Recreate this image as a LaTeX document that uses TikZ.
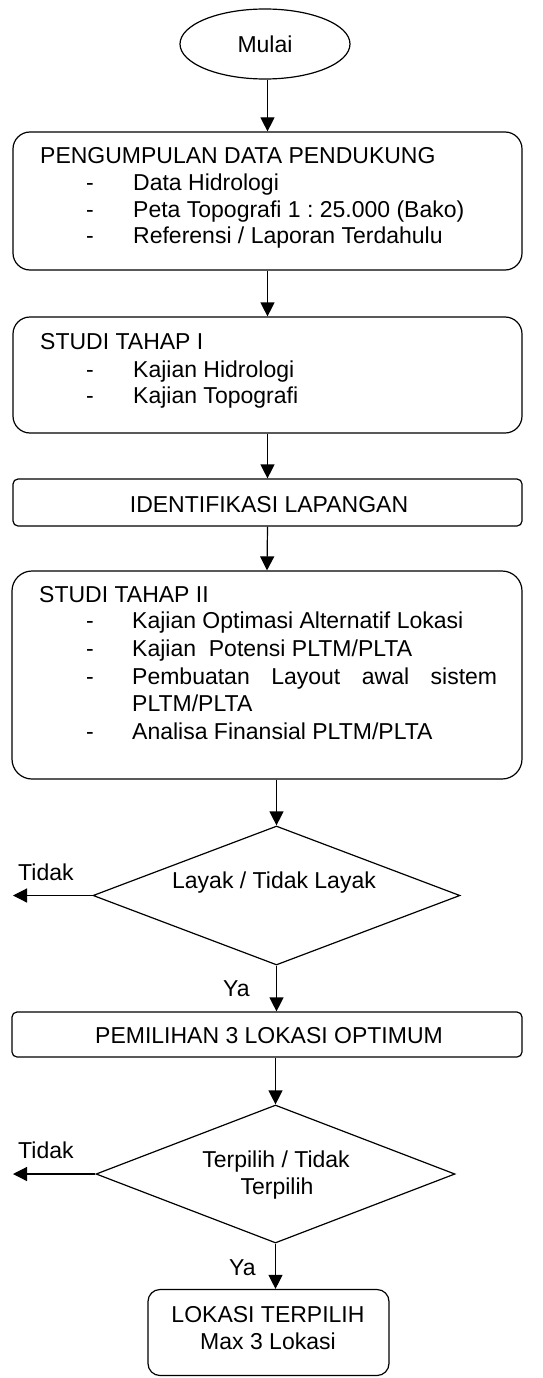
\documentclass[tikz,border=0pt]{standalone}
\usepackage{fontspec}
\setmainfont{Liberation Sans}
\usetikzlibrary{shapes.geometric,arrows.meta}
\frenchspacing
\begin{document}
\begin{tikzpicture}[x=1pt,y=-1pt,
  font=\fontsize{23}{28}\selectfont,
  box/.style={draw, line width=1.2pt, rounded corners=#1, inner sep=0pt},
  dec/.style={draw, diamond, line width=1.2pt, inner sep=0pt},
  txt/.style={anchor=base west, inner sep=0pt},
  ctxt/.style={anchor=base, inner sep=0pt},
  arr/.style={draw, line width=1.2pt, -{Triangle[length=14pt,width=14pt]}}]
\useasboundingbox (0,0) rectangle (542,1378);

% shapes
\node[draw, ellipse, line width=1.2pt, minimum width=170pt, minimum height=70pt, inner sep=0pt] (start) at (265,44) {Mulai};
\node[box=17pt, minimum width=509pt, minimum height=138pt] (b1) at (267.5,201) {};
\node[box=17pt, minimum width=509pt, minimum height=116pt] (b2) at (267.5,375) {};
\node[box=5pt, minimum width=509pt, minimum height=47pt] (b3) at (267.5,502.5) {};
\node[box=20pt, minimum width=510pt, minimum height=208pt] (b4) at (267,675) {};
\node[dec, minimum width=367pt, minimum height=139pt] (d1) at (276.5,895.5) {};
\node[box=5pt, minimum width=510pt, minimum height=45pt] (b5) at (267,1034.5) {};
\node[dec, minimum width=359pt, minimum height=138pt] (d2) at (275.5,1174) {};
\node[box=12pt, minimum width=241pt, minimum height=86pt] (b6) at (268.5,1332.5) {};

% texts box 1
\node[txt] (t1a) at (40,163) {PENGUMPULAN DATA PENDUKUNG};
\node[txt] (t1b) at (86,190) {-};
\node[txt] (t1c) at (133,190) {Data Hidrologi};
\node[txt] (t1d) at (86,217) {-};
\node[txt] (t1e) at (133,217) {Peta Topografi 1 : 25.000 (Bako)};
\node[txt] (t1f) at (86,243) {-};
\node[txt] (t1g) at (133,243) {Referensi / Laporan Terdahulu};

% texts box 2
\node[txt] (t2a) at (40,349) {STUDI TAHAP I};
\node[txt] (t2b) at (86,377) {-};
\node[txt] (t2c) at (133,377) {Kajian Hidrologi};
\node[txt] (t2d) at (86,403) {-};
\node[txt] (t2e) at (133,403) {Kajian Topografi};

% box 3
\node[ctxt] (t3) at (269,512) {IDENTIFIKASI LAPANGAN};

% texts box 4
\node[txt] (t4a) at (39,602) {STUDI TAHAP II};
\node[txt] (t4b) at (86,628.5) {-};
\node[txt] (t4c) at (132,628.5) {Kajian Optimasi Alternatif Lokasi};
\node[txt] (t4d) at (86,656) {-};
\node[txt] (t4e) at (132,656) {Kajian\ \ Potensi PLTM/PLTA};
\node[txt] (t4f) at (86,684) {-};
\node[txt] (t4g) at (132,684) {\makebox[365pt][s]{Pembuatan Layout awal sistem}};
\node[txt] (t4h) at (132,711.5) {PLTM/PLTA};
\node[txt] (t4i) at (86,739.5) {-};
\node[txt] (t4j) at (132,739.5) {Analisa Finansial PLTM/PLTA};

% decision 1
\node[ctxt] (t5) at (274,888) {Layak / Tidak Layak};
\node[txt] (n1) at (18,880) {Tidak};
\node[txt] (y1) at (223,996) {Ya};

% box 5
\node[ctxt] (t6) at (269,1043) {PEMILIHAN 3 LOKASI OPTIMUM};

% decision 2
\node[ctxt] (t7a) at (276,1167) {Terpilih / Tidak};
\node[ctxt] (t7b) at (277,1194) {Terpilih};
\node[txt] (n2) at (18,1158) {Tidak};
\node[txt] (y2) at (229,1275) {Ya};

% box 6
\node[ctxt] (t8a) at (268,1322) {LOKASI TERPILIH};
\node[ctxt] (t8b) at (268,1349) {Max 3 Lokasi};

% connectors
\coordinate (e1) at (13,895.5);
\coordinate (e2) at (13,1174);
\draw[arr] (start.south -| b1.north) -- (b1.north);
\draw[arr] (b1.south) -- (b2.north);
\draw[arr] (b2.south) -- (b3.north);
\draw[arr] (b3.south) -- (b4.north);
\draw[arr] (b4.south -| d1.north) -- (d1.north);
\draw[arr] (d1.west) -- (e1);
\draw[arr] (d1.south) -- (d1.south |- b5.north);
\draw[arr] (b5.south -| d2.north) -- (d2.north);
\draw[arr] (d2.west) -- (e2);
\draw[arr] (d2.south) -- (d2.south |- b6.north);
\end{tikzpicture}
\end{document}
